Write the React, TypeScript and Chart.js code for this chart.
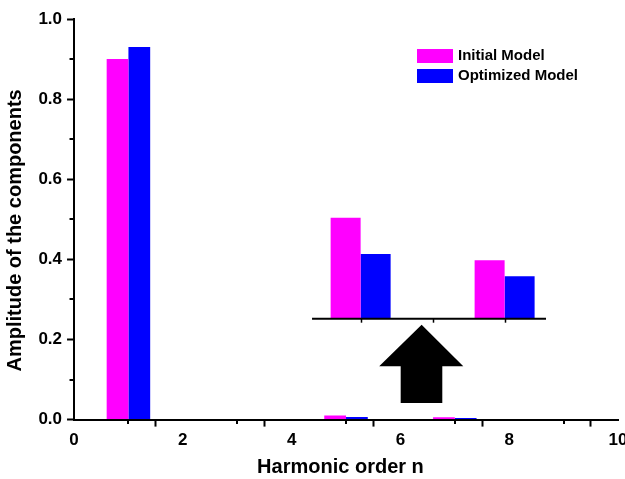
import { useEffect, useRef } from "react";
import { Chart, registerables } from "chart.js";

Chart.register(...registerables);

// ---- data ----
const harmonicOrders = [1, 5, 7];
const initialModel = [0.9, 0.01, 0.0058];
const optimizedModel = [0.93, 0.0064, 0.0042];
const insetOrders = [5, 7];
const insetInitial = [0.01, 0.0058];
const insetOptimized = [0.0064, 0.0042];
const insetTicks = [5, 6, 7];
const seriesLabels = ["Initial Model", "Optimized Model"];
const seriesColors = ["#FF00FF", "#0000FF"];

// inset (magnified) scale ranges
const insetXRange = [1.019, 8.575];
const insetYRange = [-0.01, 0.0297];
const insetBaseline = [4.325, 7.575];

// arrow (in main-axis data coordinates)
const arrowTip = [6.39, 0.237];
const arrowHeadBaseY = 0.133;
const arrowHeadX = [5.61, 7.156];
const arrowShaftX = [6.005, 6.77];
const arrowBottomY = 0.0416;

const FONT = "'Liberation Sans', Arial, Helvetica, sans-serif";
const W = 645;
const H = 479;

const minorTickPlugin = {
  id: "minorTicks",
  afterDraw(chart: any) {
    const ctx = chart.ctx;
    const { x, y } = chart.scales;
    ctx.save();
    ctx.strokeStyle = "#000";
    ctx.lineWidth = 2;
    x.ticks.forEach((_t: any, i: number) => {
      if (i % 2 === 1) {
        const px = Math.round(x.getPixelForTick(i));
        ctx.beginPath();
        ctx.moveTo(px, chart.chartArea.bottom);
        ctx.lineTo(px, chart.chartArea.bottom + 4.5);
        ctx.stroke();
      }
    });
    y.ticks.forEach((_t: any, i: number) => {
      if (i % 2 === 1) {
        const py = Math.round(y.getPixelForTick(i));
        ctx.beginPath();
        ctx.moveTo(chart.chartArea.left, py);
        ctx.lineTo(chart.chartArea.left - 4.5, py);
        ctx.stroke();
      }
    });
    ctx.restore();
  },
};

const arrowPlugin = {
  id: "arrow",
  afterDatasetsDraw(chart: any) {
    const ctx = chart.ctx;
    const x = chart.scales.x;
    const y = chart.scales.y;
    ctx.save();
    ctx.fillStyle = "#000";
    ctx.beginPath();
    ctx.moveTo(x.getPixelForValue(arrowTip[0]), y.getPixelForValue(arrowTip[1]));
    ctx.lineTo(x.getPixelForValue(arrowHeadX[1]), y.getPixelForValue(arrowHeadBaseY));
    ctx.lineTo(x.getPixelForValue(arrowShaftX[1]), y.getPixelForValue(arrowHeadBaseY));
    ctx.lineTo(x.getPixelForValue(arrowShaftX[1]), y.getPixelForValue(arrowBottomY));
    ctx.lineTo(x.getPixelForValue(arrowShaftX[0]), y.getPixelForValue(arrowBottomY));
    ctx.lineTo(x.getPixelForValue(arrowShaftX[0]), y.getPixelForValue(arrowHeadBaseY));
    ctx.lineTo(x.getPixelForValue(arrowHeadX[0]), y.getPixelForValue(arrowHeadBaseY));
    ctx.closePath();
    ctx.fill();
    ctx.restore();
  },
};

const legendPlugin = {
  id: "customLegend",
  afterDraw(chart: any) {
    const ctx = chart.ctx;
    ctx.save();
    seriesLabels.forEach((label, i) => {
      ctx.fillStyle = seriesColors[i];
      ctx.fillRect(417, 49 + 20 * i, 36, 14);
      ctx.fillStyle = "#000";
      ctx.font = `bold 15px ${FONT}`;
      ctx.textBaseline = "middle";
      ctx.textAlign = "left";
      ctx.fillText(label, 458, 56.2 + 20 * i);
    });
    ctx.restore();
  },
};

const insetAxisPlugin = {
  id: "insetAxis",
  afterDatasetsDraw(chart: any) {
    const ctx = chart.ctx;
    const xs = chart.scales.x;
    const ys = chart.scales.y;
    const y0 = ys.getPixelForValue(0);
    ctx.save();
    ctx.strokeStyle = "#000";
    ctx.lineWidth = 2;
    ctx.beginPath();
    ctx.moveTo(xs.getPixelForValue(insetBaseline[0]), y0);
    ctx.lineTo(xs.getPixelForValue(insetBaseline[1]), y0);
    ctx.stroke();
    ctx.lineWidth = 1.5;
    insetTicks.forEach((t) => {
      const px = Math.round(xs.getPixelForValue(t)) + 0.5;
      ctx.beginPath();
      ctx.moveTo(px, y0);
      ctx.lineTo(px, y0 + 4);
      ctx.stroke();
    });
    ctx.restore();
  },
};

export default function App() {
  const mainRef = useRef<HTMLCanvasElement | null>(null);
  const insetRef = useRef<HTMLCanvasElement | null>(null);

  useEffect(() => {
    if (!mainRef.current || !insetRef.current) return;
    const mainSets = [initialModel, optimizedModel].map((vals, s) => ({
      label: seriesLabels[s],
      data: harmonicOrders.map((h, i) => ({ x: h, y: vals[i] })),
      backgroundColor: seriesColors[s],
      borderWidth: 0,
      categoryPercentage: 0.8,
      barPercentage: 1,
    }));

    const tickFont = { family: FONT, size: 17, weight: "bold" as const };
    const titleFont = { family: FONT, size: 20, weight: "bold" as const };
    const tickGrid = {
      display: true,
      drawOnChartArea: false,
      drawTicks: true,
      tickLength: 7,
      tickWidth: 2,
      tickColor: (c: any) => (c.index % 2 === 0 ? "#000" : "rgba(0,0,0,0)"),
    };

    const chart = new Chart(mainRef.current, {
      type: "bar",
      data: { datasets: mainSets as any },
      options: {
        animation: false,
        responsive: false,
        devicePixelRatio: 1,
        layout: { padding: { top: 19, right: 27, left: 0, bottom: 0 } },
        plugins: {
          legend: { display: false },
          tooltip: { enabled: false },
        },
        scales: {
          x: {
            type: "linear",
            position: "bottom",
            min: 0,
            max: 10,
            offset: false,
            ticks: {
              stepSize: 1,
              autoSkip: false,
              maxRotation: 0,
              padding: 4,
              color: "#000",
              font: tickFont,
              callback: (v: any, i: number) => (i % 2 === 0 ? String(v) : ""),
            },
            grid: tickGrid,
            border: { display: true, color: "#000", width: 2 },
            title: {
              display: true,
              text: "Harmonic order n  ",
              color: "#000",
              font: titleFont,
              padding: { top: 0, bottom: 0 },
            },
          },
          y: {
            type: "linear",
            position: "left",
            min: 0,
            max: 1,
            ticks: {
              stepSize: 0.1,
              autoSkip: false,
              padding: 5,
              color: "#000",
              font: tickFont,
              callback: (v: any, i: number) => (i % 2 === 0 ? Number(v).toFixed(1) : ""),
            },
            grid: tickGrid,
            border: { display: true, color: "#000", width: 2 },
            title: {
              display: true,
              text: "Amplitude of the components    ",
              color: "#000",
              font: titleFont,
              padding: { top: 3, bottom: 6.4 },
            },
          },
        },
      } as any,
      plugins: [minorTickPlugin, arrowPlugin, legendPlugin],
    });

    const ca = chart.chartArea;

    const insetSets = [insetInitial, insetOptimized].map((vals, s) => ({
      label: seriesLabels[s],
      data: insetOrders.map((h, i) => ({ x: h, y: vals[i] })),
      backgroundColor: seriesColors[s],
      borderWidth: 0,
      categoryPercentage: 60 / 72,
      barPercentage: 1,
    }));

    const inset = new Chart(insetRef.current, {
      type: "bar",
      data: { datasets: insetSets as any },
      options: {
        animation: false,
        responsive: false,
        devicePixelRatio: 1,
        layout: {
          padding: { left: ca.left, top: ca.top, right: W - ca.right, bottom: H - ca.bottom },
        },
        plugins: { legend: { display: false }, tooltip: { enabled: false } },
        scales: {
          x: {
            type: "linear",
            display: false,
            min: insetXRange[0],
            max: insetXRange[1],
            offset: false,
            afterBuildTicks: (scale: any) => {
              scale.ticks = insetTicks.map((v) => ({ value: v }));
            },
          },
          y: {
            type: "linear",
            display: false,
            min: insetYRange[0],
            max: insetYRange[1],
          },
        },
      } as any,
      plugins: [insetAxisPlugin],
    });

    return () => {
      inset.destroy();
      chart.destroy();
    };
  }, []);

  return (
    <div
      style={{
        position: "absolute",
        left: 0,
        top: 0,
        width: 625,
        height: 479,
        overflow: "hidden",
        background: "#fff",
      }}
    >
      <canvas ref={mainRef} width={W} height={H} style={{ display: "block", position: "absolute", left: 0, top: 0 }} />
      <canvas
        ref={insetRef}
        width={W}
        height={H}
        style={{ display: "block", position: "absolute", left: 0, top: 0, pointerEvents: "none" }}
      />
    </div>
  );
}
